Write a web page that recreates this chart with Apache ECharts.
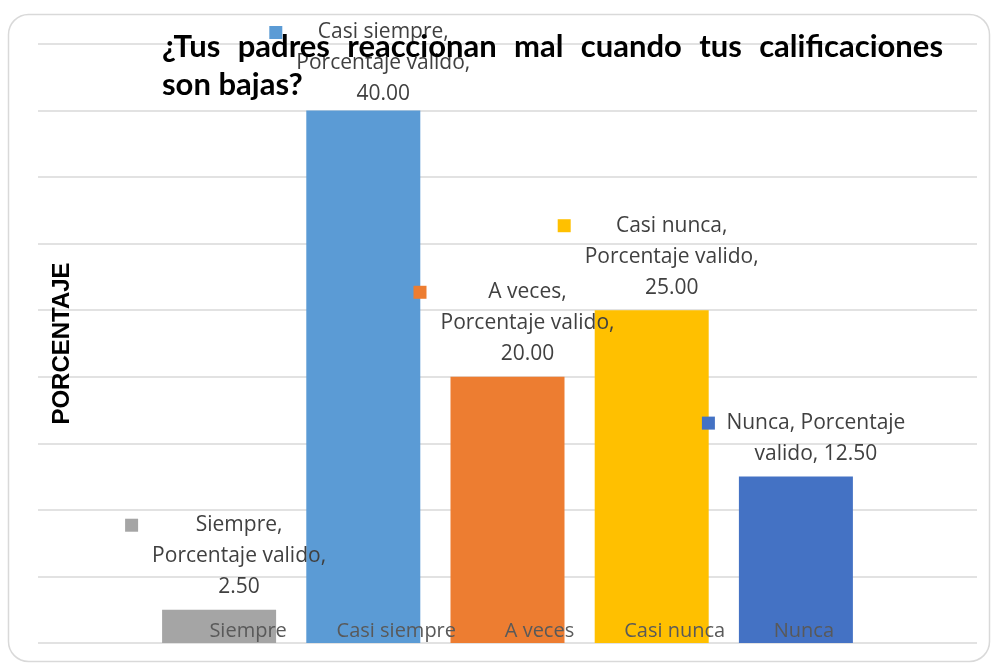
<!DOCTYPE html>
<html>
<head>
<meta charset="utf-8">
<script src="https://cdn.jsdelivr.net/npm/echarts@6/dist/echarts.min.js"></script>
<style>
  html, body { margin: 0; padding: 0; background: #ffffff; }
  #chart { width: 991px; height: 664px; }
</style>
</head>
<body>
<div id="chart"></div>
<script>
// Survey answers and their valid percentages
const categories = ['Siempre', 'Casi siempre', 'A veces', 'Casi nunca', 'Nunca'];
const seriesName = 'Porcentaje valido';
const values = [2.5, 40, 20, 25, 12.5];
const yMin = 0;
const yMax = 45;
const yStep = 5;
const titleLine1 = '¿Tus padres reaccionan mal cuando tus calificaciones';
const titleLine2 = 'son bajas?';
const yAxisName = 'PORCENTAJE';

// Styling
const barColors = ['#a5a5a5', '#5b9bd5', '#ed7d31', '#ffc000', '#4472c4'];
const catLabelShift = [29, 33, 32, 23, 8];
const FONT = '"Open Sans", Lato, sans-serif';
const TITLE_FONT = 'Lato, "Open Sans", sans-serif';
const labelSize = 21;
const catSize = 20;
const labelLine = 31;
const labelBox = 176;     // width of the text block of each data label
const wrapWidth = 183;    // data label text wraps at this width
const keySize = 13;       // legend key square beside a data label
const keyGap = 13;
const labelDistance = 7;
const labelTopLimit = 17; // labels are kept below the chart frame
const titleSize = 31;
const titleWidth = 781;   // first title line is justified to this width

const ctx = document.createElement('canvas').getContext('2d');
function textWidth(t, font) { ctx.font = font; return ctx.measureText(t).width; }

function wrap(text, font, maxW) {
  const words = text.split(' ');
  const lines = [];
  let cur = '';
  words.forEach(w => {
    const t = cur ? cur + ' ' + w : w;
    if (cur && textWidth(t, font) > maxW) { lines.push(cur); cur = w; }
    else { cur = t; }
  });
  lines.push(cur);
  return lines;
}

// Justified first title line: words with stretched spaces
const titleFont = 'bold ' + titleSize + 'px ' + TITLE_FONT;
const words1 = titleLine1.split(' ');
const wordsW = words1.reduce((s, w) => s + textWidth(w, titleFont), 0);
const spaceW = (titleWidth - wordsW) / (words1.length - 1);
const titleText = words1.map(w => '{w|' + w + '}').join('{sp| }') + '\n{w|' + titleLine2 + '}';

const labelFont = labelSize + 'px ' + FONT;
const rich = {
  t: { fontFamily: FONT, fontSize: labelSize, color: '#404040', width: labelBox, align: 'center', lineHeight: labelLine },
  gap: { width: keyGap, lineHeight: labelLine },
  pad: { width: keySize + keyGap, lineHeight: labelLine }
};
barColors.forEach((c, i) => {
  rich['k' + i] = { width: keySize, height: keySize, backgroundColor: c, lineHeight: labelLine };
});

function labelLines(i) {
  const txt = categories[i] + ', ' + seriesName + ', ' + values[i].toFixed(2);
  return wrap(txt, labelFont, wrapWidth);
}

function dataLabel(p) {
  return labelLines(p.dataIndex)
    .map((l, i) => (i === 0 ? '{k' + p.dataIndex + '|}{gap|}' : '{pad|}') + '{t|' + l + '}')
    .join('\n');
}

function barData(distances) {
  return values.map((v, i) => ({
    value: v,
    itemStyle: { color: barColors[i] },
    label: { distance: distances[i] }
  }));
}

const chart = echarts.init(document.getElementById('chart'), null, { renderer: 'canvas' });

chart.setOption({
  animation: false,
  backgroundColor: '#ffffff',
  title: {
    text: titleText,
    left: 162,
    top: 28,
    padding: 0,
    textStyle: {
      rich: {
        w: { fontFamily: TITLE_FONT, fontWeight: 'bold', fontSize: titleSize, color: '#000000', lineHeight: 38 },
        sp: { fontFamily: TITLE_FONT, fontWeight: 'bold', fontSize: titleSize, width: spaceW, lineHeight: 38 }
      }
    }
  },
  graphic: [{
    type: 'rect',
    silent: true,
    z: -10,
    shape: { x: 8.5, y: 14.5, width: 981, height: 647, r: 20 },
    style: { fill: 'none', stroke: '#d9d9d9', lineWidth: 1.5 }
  }],
  grid: [
    { left: 38, right: 14, top: 44, bottom: 21 },
    { left: 147, right: 123, top: 44, bottom: 21 }
  ],
  xAxis: [
    { gridIndex: 0, type: 'value', show: false },
    {
      gridIndex: 1,
      type: 'category',
      data: categories.map((c, i) => ({
        value: c,
        textStyle: { padding: [0, 0, 0, 2 * catLabelShift[i]] }
      })),
      axisLine: { show: false },
      axisTick: { show: false },
      axisLabel: { inside: true, interval: 0, hideOverlap: false, margin: 2, fontFamily: FONT, fontSize: catSize, color: '#595959' },
      z: 10
    }
  ],
  yAxis: [
    {
      gridIndex: 0,
      type: 'value',
      min: yMin, max: yMax, interval: yStep,
      axisLine: { show: false },
      axisTick: { show: false },
      axisLabel: { show: false },
      splitLine: { lineStyle: { color: '#d9d9d9', width: 1.5 } },
      name: yAxisName,
      nameLocation: 'middle',
      nameRotate: 90,
      nameGap: -36,
      nameTextStyle: { fontFamily: '"Liberation Sans", Arial, sans-serif', fontWeight: 'bold', fontSize: 24, color: '#000000' }
    },
    {
      gridIndex: 1,
      type: 'value',
      min: yMin, max: yMax, interval: yStep,
      show: false
    }
  ],
  series: [{
    name: seriesName,
    type: 'bar',
    xAxisIndex: 1,
    yAxisIndex: 1,
    barWidth: 114,
    data: barData(values.map(() => labelDistance)),
    label: {
      show: true,
      position: 'top',
      distance: labelDistance,
      offset: [7, 0],
      formatter: dataLabel,
      rich: rich
    }
  }]
});

// Labels that would rise above the chart frame are pushed down towards their bar
const distances = values.map((v, i) => {
  const barTop = chart.convertToPixel({ xAxisIndex: 1, yAxisIndex: 1 }, [i, v])[1];
  const labelTop = barTop - labelDistance - labelLines(i).length * labelLine;
  return labelTop < labelTopLimit ? labelDistance - (labelTopLimit - labelTop) : labelDistance;
});
chart.setOption({ series: [{ data: barData(distances) }] });
</script>
</body>
</html>
